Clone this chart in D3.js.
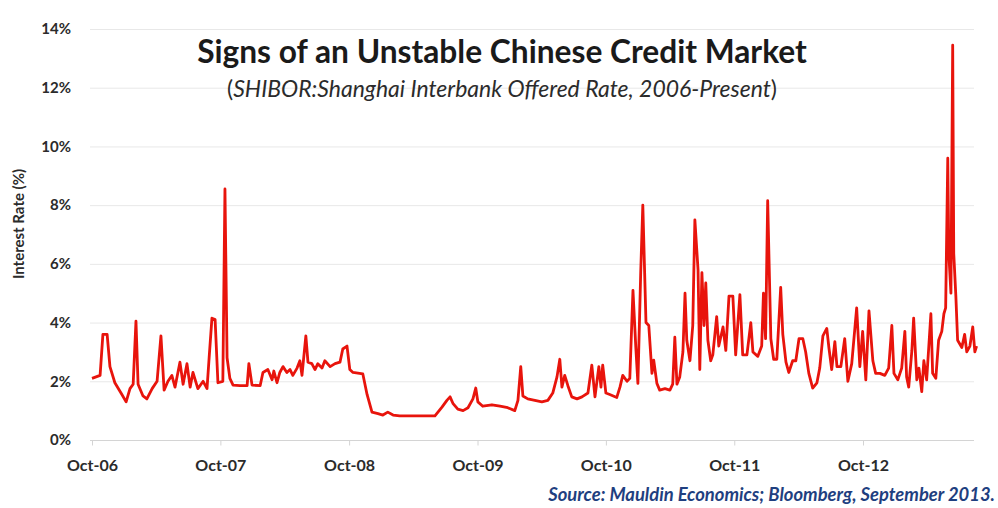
<!DOCTYPE html>
<html lang="en">
<head>
<meta charset="UTF-8">
<title>Signs of an Unstable Chinese Credit Market</title>
<style>
    body { margin: 0; background: #fff; }
    svg { display: block; }
</style>
</head>
<body>
<div id="chart"></div>
<script src="https://d3js.org/d3.v7.min.js"></script>
<script>
const dates = [
    "2006-10-01","2006-10-24","2006-11-01","2006-11-13","2006-11-21","2006-12-05","2006-12-25",
    "2007-01-06","2007-01-17","2007-01-26","2007-02-03","2007-02-09","2007-02-23","2007-03-06",
    "2007-03-21","2007-04-04","2007-04-15","2007-04-24","2007-05-05","2007-05-16","2007-05-25",
    "2007-06-08","2007-06-17","2007-06-28","2007-07-07","2007-07-15","2007-07-29","2007-08-13",
    "2007-08-24","2007-08-30","2007-09-07","2007-09-16","2007-09-24","2007-10-08","2007-10-14",
    "2007-10-20","2007-10-28","2007-11-06","2007-11-26","2007-12-16","2007-12-21","2007-12-30",
    "2008-01-22","2008-01-30","2008-02-13","2008-02-25","2008-03-01","2008-03-10","2008-03-18",
    "2008-03-27","2008-04-07","2008-04-16","2008-04-24","2008-05-06","2008-05-14","2008-05-20",
    "2008-05-31","2008-06-06","2008-06-17","2008-06-26","2008-07-04","2008-07-16","2008-07-24",
    "2008-08-08","2008-08-22","2008-09-05","2008-09-13","2008-09-25","2008-10-03","2008-10-12",
    "2008-11-09","2008-11-21","2008-12-05","2008-12-22","2009-01-05","2009-01-19","2009-02-03",
    "2009-02-22","2009-04-20","2009-06-02","2009-06-22","2009-07-06","2009-07-15","2009-07-23",
    "2009-08-06","2009-08-21","2009-09-04","2009-09-18","2009-09-26","2009-10-02","2009-10-16",
    "2009-11-11","2009-12-04","2009-12-26","2010-01-15","2010-01-24","2010-02-01","2010-02-07",
    "2010-02-21","2010-03-13","2010-04-02","2010-04-19","2010-05-03","2010-05-15","2010-05-23",
    "2010-05-29","2010-06-06","2010-06-15","2010-06-26","2010-07-11","2010-07-25","2010-08-11",
    "2010-08-22","2010-08-31","2010-09-11","2010-09-17","2010-09-22","2010-10-01","2010-10-12",
    "2010-11-01","2010-11-10","2010-11-18","2010-11-30","2010-12-08","2010-12-17","2010-12-25",
    "2010-12-31","2011-01-08","2011-01-14","2011-01-23","2011-01-31","2011-02-09","2011-02-14",
    "2011-02-23","2011-03-03","2011-03-18","2011-04-01","2011-04-09","2011-04-15","2011-04-21",
    "2011-04-29","2011-05-08","2011-05-14","2011-05-19","2011-05-28","2011-06-05","2011-06-11",
    "2011-06-20","2011-06-25","2011-07-01","2011-07-07","2011-07-12","2011-07-18","2011-07-26",
    "2011-08-01","2011-08-12","2011-08-18","2011-08-30","2011-09-07","2011-09-16","2011-09-27",
    "2011-10-05","2011-10-17","2011-10-25","2011-11-06","2011-11-17","2011-11-23","2011-12-07",
    "2011-12-18","2011-12-23","2011-12-29","2012-01-04","2012-01-13","2012-01-21","2012-01-30",
    "2012-02-10","2012-02-16","2012-02-25","2012-03-04","2012-03-15","2012-03-24","2012-04-02",
    "2012-04-13","2012-04-21","2012-04-30","2012-05-11","2012-05-23","2012-05-31","2012-06-09",
    "2012-06-20","2012-06-26","2012-07-04","2012-07-13","2012-07-19","2012-07-30","2012-08-10",
    "2012-08-19","2012-08-30","2012-09-13","2012-09-22","2012-09-30","2012-10-09","2012-10-18",
    "2012-10-29","2012-11-06","2012-11-18","2012-12-02","2012-12-13","2012-12-22","2012-12-28",
    "2013-01-08","2013-01-19","2013-01-28","2013-02-02","2013-02-08","2013-02-17","2013-02-22",
    "2013-03-03","2013-03-09","2013-03-17","2013-03-23","2013-03-31","2013-04-12","2013-04-17",
    "2013-04-26","2013-05-04","2013-05-13","2013-05-19","2013-05-24","2013-05-30","2013-06-02",
    "2013-06-08","2013-06-13","2013-06-16","2013-06-22","2013-06-27","2013-07-09","2013-07-17",
    "2013-07-23","2013-08-01","2013-08-09","2013-08-15","2013-08-20"
];
const rates = [
    2.1, 2.2, 3.6, 3.6, 2.5, 1.95, 1.55,
    1.3, 1.75, 1.9, 4.05, 1.9, 1.5, 1.4,
    1.75, 2.0, 3.55, 1.7, 2.0, 2.2, 1.8,
    2.65, 1.9, 2.6, 1.8, 2.3, 1.75, 2.0,
    1.75, 2.8, 4.15, 4.1, 1.95, 2.0, 8.55,
    2.8, 2.1, 1.87, 1.85, 1.85, 2.6, 1.87,
    1.85, 2.3, 2.4, 2.05, 2.35, 1.95, 2.3,
    2.5, 2.3, 2.4, 2.2, 2.45, 2.7, 2.2,
    3.55, 2.65, 2.6, 2.4, 2.6, 2.45, 2.7,
    2.5, 2.6, 2.65, 3.1, 3.2, 2.4, 2.3,
    2.25, 1.55, 0.95, 0.9, 0.85, 0.95, 0.85,
    0.82, 0.82, 0.82, 1.12, 1.35, 1.47, 1.25,
    1.05, 1.0, 1.1, 1.4, 1.77, 1.3, 1.15,
    1.2, 1.15, 1.1, 1.0, 1.35, 2.5, 1.5,
    1.4, 1.35, 1.3, 1.35, 1.6, 2.15, 2.75,
    1.8, 2.2, 1.85, 1.47, 1.4, 1.47, 1.6,
    2.55, 1.47, 2.5, 1.8, 2.55, 1.6, 1.55,
    1.45, 1.8, 2.2, 2.0, 2.1, 5.1, 3.17,
    1.93, 5.7, 8.0, 4.0, 3.9, 2.27, 2.72,
    1.93, 1.7, 1.75, 1.7, 1.9, 3.5, 1.9,
    2.15, 3.0, 5.0, 3.4, 2.7, 3.9, 7.5,
    5.8, 2.4, 5.7, 3.9, 5.35, 3.4, 2.7,
    2.9, 4.2, 3.2, 3.85, 3.05, 4.9, 4.9,
    2.9, 4.95, 2.9, 2.9, 4.0, 3.0, 2.85,
    3.2, 5.0, 3.45, 8.15, 3.45, 2.75, 2.75,
    5.2, 3.6, 2.65, 2.3, 2.7, 2.7, 3.45,
    3.45, 3.0, 2.27, 1.77, 1.95, 2.45, 3.55,
    3.8, 3.15, 2.4, 3.35, 2.5, 2.5, 3.45,
    2.0, 2.6, 4.5, 2.5, 3.7, 2.05, 4.4,
    2.7, 2.27, 2.27, 2.2, 2.45, 3.9, 2.27,
    2.05, 2.45, 3.7, 2.15, 1.8, 3.05, 4.15,
    2.05, 2.45, 1.65, 2.7, 2.05, 4.3, 2.27,
    2.1, 3.4, 3.7, 4.3, 4.5, 9.6, 6.35,
    5.0, 13.45, 6.35, 4.9, 3.4, 3.15, 3.6,
    3.0, 3.2, 3.85, 3.0, 3.2
];

const tickDates = ["2006-10-01","2007-10-01","2008-10-01","2009-10-01","2010-10-01","2011-10-01","2012-10-01"];
const tickLabels = ["Oct-06","Oct-07","Oct-08","Oct-09","Oct-10","Oct-11","Oct-12"];
const yTicks = [0, 2, 4, 6, 8, 10, 12, 14];

const titleText = "Signs of an Unstable Chinese Credit Market";
const sourceText = "Source: Mauldin Economics; Bloomberg, September 2013.";

const W = 998, H = 508;
const plotLeft = 90, plotRight = 974;

const parse = d3.timeParse("%Y-%m-%d");
const data = dates.map((d, i) => ({ date: parse(d), rate: rates[i] }));

const svg = d3.select("#chart")
    .append("svg")
    .attr("width", W)
    .attr("height", H);

const x = d3.scaleTime()
    .domain([parse(tickDates[0]), parse(tickDates[tickDates.length - 1])])
    .range([92, 863]);

const y = d3.scaleLinear()
    .domain([0, 14])
    .range([440, 29]);

// horizontal gridlines
svg.append("g")
    .selectAll("line")
    .data(yTicks.filter(t => t > 0))
    .join("line")
    .attr("x1", plotLeft)
    .attr("x2", plotRight)
    .attr("y1", d => y(d) + 0.5)
    .attr("y2", d => y(d) + 0.5)
    .attr("stroke", "#e8e8e8")
    .attr("stroke-width", 1);

// y axis labels
const yAxis = svg.append("g")
    .attr("transform", "translate(71,0)")
    .call(d3.axisLeft(y).tickValues(yTicks).tickSize(0).tickPadding(0).tickFormat(d => d + "%"));
yAxis.select(".domain").remove();
yAxis.selectAll("text")
    .attr("font-family", "Lato, 'Open Sans', sans-serif")
    .attr("font-weight", "bold")
    .attr("font-size", 15)
    .attr("fill", "#2b2b2b");

// x axis at 0%
const xAxis = svg.append("g")
    .attr("transform", `translate(0,${y(0) + 0.5})`)
    .call(d3.axisBottom(x)
        .tickValues(tickDates.map(parse))
        .tickSize(5)
        .tickPadding(14)
        .tickFormat((d, i) => tickLabels[i]));
xAxis.select(".domain")
    .attr("d", `M${plotLeft},0H${plotRight}`)
    .attr("stroke", "#d4d4d4");
xAxis.selectAll(".tick line").attr("stroke", "#d4d4d4");
xAxis.selectAll("text")
    .attr("font-family", "Lato, 'Open Sans', sans-serif")
    .attr("font-weight", "bold")
    .attr("font-size", 16)
    .attr("fill", "#2b2b2b");

// y axis title
svg.append("text")
    .attr("transform", "translate(24,224) rotate(-90)")
    .attr("text-anchor", "middle")
    .attr("font-family", "Lato, 'Open Sans', sans-serif")
    .attr("font-weight", "bold")
    .attr("font-size", 15)
    .attr("fill", "#2b2b2b")
    .text("Interest Rate (%)");

// the series
const line = d3.line()
    .x(d => x(d.date))
    .y(d => y(d.rate));

svg.append("path")
    .datum(data)
    .attr("fill", "none")
    .attr("stroke", "#e8140c")
    .attr("stroke-width", 2.8)
    .attr("stroke-linejoin", "round")
    .attr("d", line);

// shrink or grow a text so it spans the width seen in the original
function fitWidth(sel, target) {
    const size = +sel.attr("font-size");
    const w = sel.node().getComputedTextLength();
    sel.attr("font-size", (size * target / w).toFixed(2));
}

const title = svg.append("text")
    .attr("x", 502)
    .attr("y", 63)
    .attr("text-anchor", "middle")
    .attr("font-family", "Lato, 'Open Sans', sans-serif")
    .attr("font-weight", "bold")
    .attr("font-size", 28)
    .attr("fill", "#1a1a1a")
    .text(titleText);
fitWidth(title, 610);

const subtitle = svg.append("text")
    .attr("x", 502)
    .attr("y", 97)
    .attr("text-anchor", "middle")
    .attr("font-family", "Lato, 'Open Sans', sans-serif")
    .attr("font-size", 20)
    .attr("fill", "#2b2b2b");
subtitle.append("tspan").text("(");
subtitle.append("tspan").attr("font-style", "italic").text("SHIBOR:Shanghai Interbank Offered Rate, 2006-Present");
subtitle.append("tspan").text(")");
fitWidth(subtitle, 550);

const source = svg.append("text")
    .attr("x", 995)
    .attr("y", 501)
    .attr("text-anchor", "end")
    .attr("font-family", "Lato, 'Open Sans', sans-serif")
    .attr("font-weight", "bold")
    .attr("font-style", "italic")
    .attr("font-size", 15)
    .attr("fill", "#1f3f80")
    .text(sourceText);
fitWidth(source, 447);
</script>
</body>
</html>
